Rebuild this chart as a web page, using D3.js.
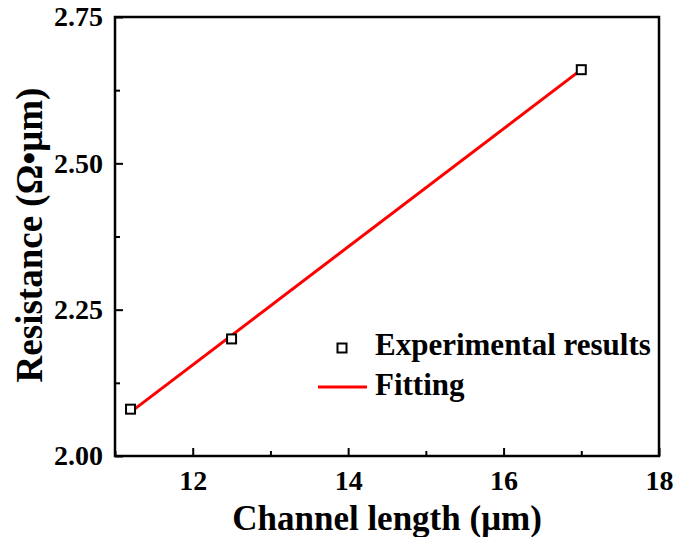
<!DOCTYPE html>
<html>
<head>
<meta charset="utf-8">
<script src="https://cdn.jsdelivr.net/npm/d3@7"></script>
<style>
  html, body { margin: 0; padding: 0; background: #fff; }
  svg text { font-family: "Liberation Serif", "Times New Roman", serif; font-weight: bold; fill: #000; }
</style>
</head>
<body>
<div id="chart"></div>
<script>
// Channel length (um) vs resistance (ohm*um)
const channelLength = [11.2, 12.5, 17.0];
const resistance = [2.08, 2.20, 2.66];

// fitted line, end points
const fitX = [11.2, 17.0];
const fitY = [2.075, 2.66];

const xMajor = [12, 14, 16, 18];
const xMinor = [11, 13, 15, 17];
const yMajor = [2.00, 2.25, 2.50, 2.75];
const yMinor = [2.125, 2.375, 2.625];

const legendLabels = ['Experimental results', 'Fitting'];

const W = 676, H = 537;
const margin = { top: 17, right: 17, bottom: 81, left: 115 };
const width = W - margin.left - margin.right,
  height = H - margin.top - margin.bottom;

const svg = d3.select('#chart').append('svg')
  .attr('width', W)
  .attr('height', H);

const g = svg.append('g')
  .attr('transform', `translate(${margin.left},${margin.top})`);

const x = d3.scaleLinear().domain([11, 18]).range([0, width]);
const y = d3.scaleLinear().domain([2.0, 2.75]).range([height, 0]);

// bottom axis, ticks pointing inward
const xAxis = g.append('g')
  .attr('transform', `translate(0,${height})`)
  .call(d3.axisBottom(x).tickValues(xMajor).tickSizeInner(-8).tickSizeOuter(0).tickPadding(14)
    .tickFormat(d3.format('d')));
xAxis.selectAll('.tick text').style('font-size', '28px').attr('dy', '0.71em');

g.append('g')
  .attr('transform', `translate(0,${height})`)
  .call(d3.axisBottom(x).tickValues(xMinor).tickSize(-5).tickFormat(''));

const yAxis = g.append('g')
  .call(d3.axisLeft(y).tickValues(yMajor).tickSizeInner(-8).tickSizeOuter(0).tickPadding(12)
    .tickFormat(d3.format('.2f')));
yAxis.selectAll('.tick text').style('font-size', '28px');

g.append('g')
  .call(d3.axisLeft(y).tickValues(yMinor).tickSize(-5).tickFormat(''));

g.selectAll('.domain').remove();
g.selectAll('.tick line').attr('stroke', '#000').attr('stroke-width', 2);

// frame
g.append('rect')
  .attr('width', width)
  .attr('height', height)
  .attr('fill', 'none')
  .attr('stroke', '#000')
  .attr('stroke-width', 2.5);

// fit line
const fitData = fitX.map((d, i) => ({ x: d, y: fitY[i] }));
g.append('path')
  .datum(fitData)
  .attr('fill', 'none')
  .attr('stroke', '#ff0000')
  .attr('stroke-width', 3)
  .attr('d', d3.line().x(d => x(d.x)).y(d => y(d.y)));

// data points
const pts = channelLength.map((d, i) => ({ x: d, y: resistance[i] }));
const sq = 9;
g.selectAll('.pt')
  .data(pts)
  .enter()
  .append('rect')
  .attr('class', 'pt')
  .attr('x', d => x(d.x) - sq / 2)
  .attr('y', d => y(d.y) - sq / 2)
  .attr('width', sq)
  .attr('height', sq)
  .attr('fill', '#fff')
  .attr('stroke', '#000')
  .attr('stroke-width', 2);

// legend
const legend = svg.append('g').attr('transform', 'translate(318,348)');
legend.append('rect')
  .attr('x', 24 - sq / 2).attr('y', -sq / 2)
  .attr('width', sq).attr('height', sq)
  .attr('fill', '#fff').attr('stroke', '#000').attr('stroke-width', 2);
legend.append('line')
  .attr('x1', 0).attr('x2', 49)
  .attr('y1', 39).attr('y2', 39)
  .attr('stroke', '#ff0000').attr('stroke-width', 3);
legend.selectAll('.lt')
  .data(legendLabels)
  .enter()
  .append('text')
  .attr('x', 57)
  .attr('y', (d, i) => 7 + i * 40)
  .style('font-size', '31px')
  .text(d => d);

// axis titles
svg.append('text')
  .attr('x', 387)
  .attr('y', 530)
  .attr('text-anchor', 'middle')
  .style('font-size', '35px')
  .text('Channel length (\u03bcm)');

svg.append('text')
  .attr('transform', 'translate(42,235) rotate(-90)')
  .attr('text-anchor', 'middle')
  .style('font-size', '37px')
  .text('Resistance (\u03a9\u2022\u03bcm)');
</script>
</body>
</html>
